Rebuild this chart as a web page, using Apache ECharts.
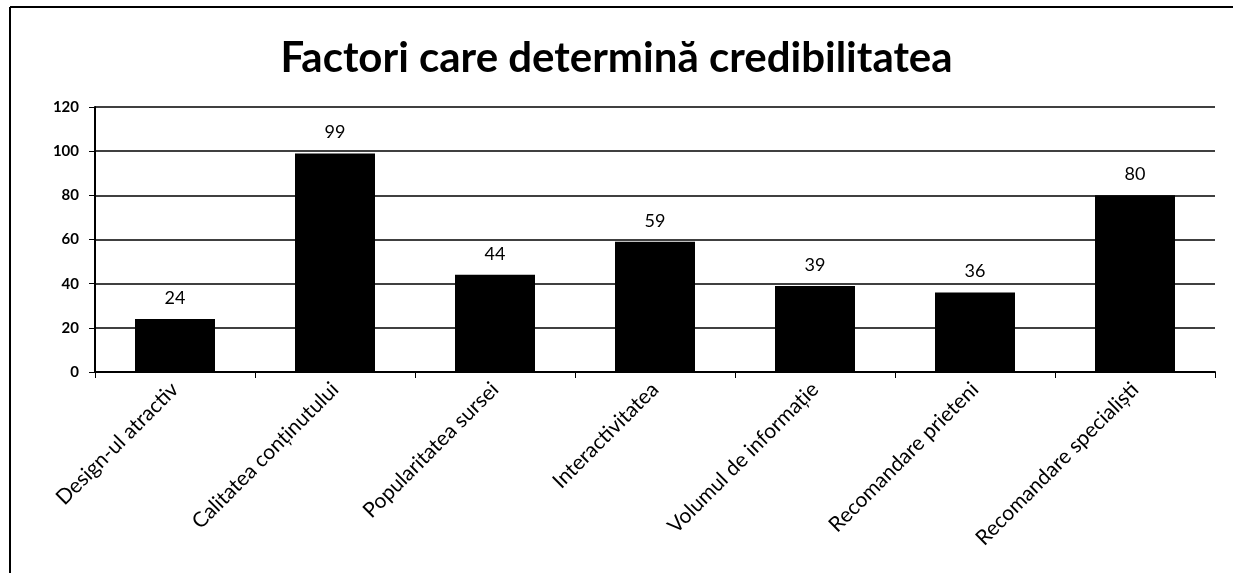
<!DOCTYPE html>
<html>
<head>
<meta charset="utf-8">
<script src="https://cdn.jsdelivr.net/npm/echarts@6/dist/echarts.min.js"></script>
<style>
  html, body { margin: 0; padding: 0; background: #fff; }
  #chart { width: 1233px; height: 573px; }
</style>
</head>
<body>
<div id="chart"></div>
<script>
// categorii si valori
const categories = [
    'Design-ul atractiv',
    'Calitatea conținutului',
    'Popularitatea sursei',
    'Interactivitatea',
    'Volumul de informație',
    'Recomandare prieteni',
    'Recomandare specialiști'
];
const values = [24, 99, 44, 59, 39, 36, 80];
const yTicks = [0, 20, 40, 60, 80, 100, 120];

const chart = echarts.init(document.getElementById('chart'));

const option = {
    animation: false,
    backgroundColor: '#fff',
    title: {
        text: 'Factori care determină credibilitatea',
        left: 'center',
        top: 32,
        textStyle: {
            fontFamily: 'Lato',
            fontSize: 42,
            fontWeight: 'bold',
            color: '#000'
        }
    },
    grid: {
        left: 95,
        right: 18,
        top: 107,
        height: 265
    },
    xAxis: {
        type: 'category',
        data: categories,
        axisLine: { lineStyle: { color: '#000', width: 2 } },
        axisTick: { show: true, length: 6, lineStyle: { color: '#000' } },
        axisLabel: {
            rotate: 45,
            interval: 0,
            margin: 14,
            fontFamily: 'Lato',
            fontSize: 21,
            color: '#000'
        }
    },
    yAxis: {
        type: 'value',
        min: yTicks[0],
        max: yTicks[yTicks.length - 1],
        interval: 20,
        axisLine: { show: true, lineStyle: { color: '#000', width: 2 } },
        axisTick: { show: true, length: 6, lineStyle: { color: '#000' } },
        axisLabel: {
            margin: 16,
            fontFamily: 'Lato',
            fontSize: 15,
            fontWeight: 'bold',
            color: '#000'
        },
        splitLine: { lineStyle: { color: '#000', width: 1.5 } }
    },
    series: [{
        type: 'bar',
        data: values,
        barWidth: '50%',
        itemStyle: { color: '#000' },
        label: {
            show: true,
            position: 'top',
            distance: 12,
            fontFamily: 'Lato',
            fontSize: 18,
            color: '#000'
        }
    }],
    graphic: [
        // rama scanata (sus si stanga)
        { type: 'line', shape: { x1: 10, y1: 7, x2: 1233, y2: 7 }, style: { stroke: '#000', lineWidth: 2 } },
        { type: 'line', shape: { x1: 10, y1: 7, x2: 10, y2: 573 }, style: { stroke: '#000', lineWidth: 2 } }
    ]
};

chart.setOption(option);
</script>
</body>
</html>
